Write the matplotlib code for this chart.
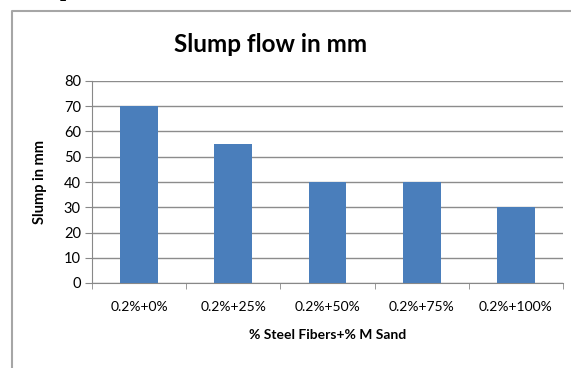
import matplotlib.pyplot as plt
from matplotlib.lines import Line2D

# datos del grafico
categories = ['0.2%+0%', '0.2%+25%', '0.2%+50%', '0.2%+75%', '0.2%+100%']
slump = [70, 55, 40, 40, 30]
yticks = [0, 10, 20, 30, 40, 50, 60, 70, 80]

plt.rcParams['font.family'] = ['Lato', 'DejaVu Sans']

fig = plt.figure(figsize=(5.71, 3.68), dpi=100)
W, H = 571, 368

# marco exterior del grafico (cortado a la derecha y abajo)
fig.add_artist(Line2D([12 / W, 12 / W, 1], [0, 1 - 11 / H, 1 - 11 / H],
                      transform=fig.transFigure, color='#a6a6a6', lw=1.5))
# resto del texto del documento arriba
fig.text(66 / W, 1 + 4 / H, 'p', family='Liberation Serif', weight='bold',
         fontsize=16, ha='center', va='baseline', color='black')

ax = fig.add_axes([92 / W, 85 / H, 471 / W, 202 / H])
x = list(range(len(categories)))
ax.bar(x, slump, width=0.4, color='#4a7ebb', zorder=3)

ax.set_xlim(-0.5, len(categories) - 0.5)
ax.set_ylim(0, 80)
ax.set_yticks(yticks)
ax.set_xticks(x)
ax.set_xticklabels(categories, fontsize=10)
ax.set_xticks([i - 0.5 for i in range(len(categories) + 1)], minor=True)
ax.tick_params(axis='x', which='major', length=0, pad=13)
ax.tick_params(axis='x', which='minor', length=4, color='#888888')
ax.tick_params(axis='y', length=5, color='#888888', labelsize=10.5, pad=3)

ax.grid(axis='y', color='#8c8c8c', lw=1, zorder=0)
for s in ['top', 'right']:
    ax.spines[s].set_visible(False)
ax.spines['left'].set_color('#888888')
ax.spines['bottom'].set_color('#888888')

ax.set_ylabel('Slump in mm', fontsize=10.5, weight='bold', labelpad=12)
fig.text(328 / W, 1 - 335 / H, '% Steel Fibers+% M Sand', fontsize=10,
         weight='bold', ha='center', va='center')
fig.text(271 / W, 1 - 45 / H, 'Slump flow in mm', fontsize=17.5,
         weight='bold', ha='center', va='center')

fig.savefig('out.png', dpi=100)
